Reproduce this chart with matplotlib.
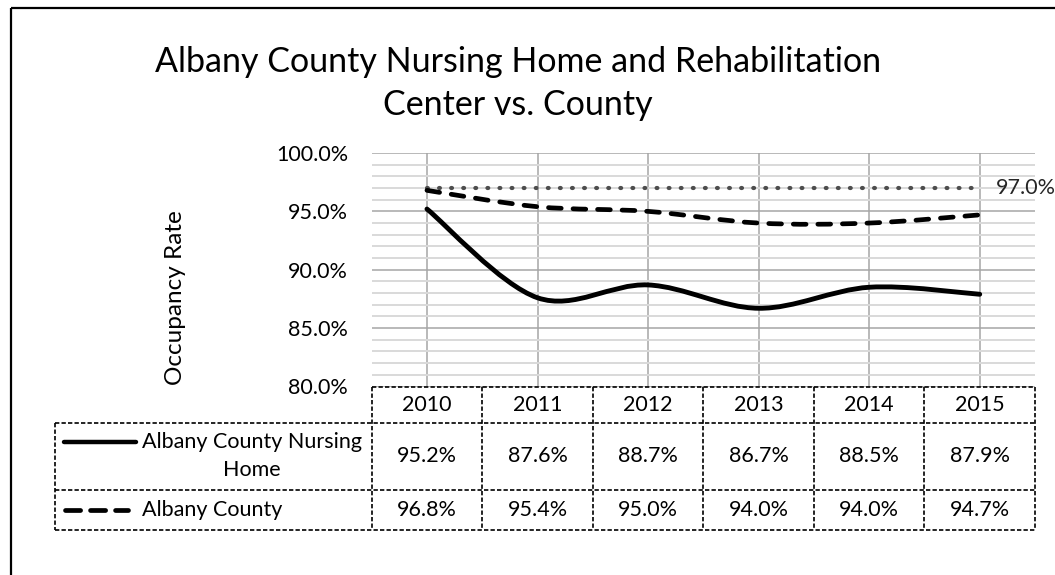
import matplotlib
matplotlib.use("Agg")
import matplotlib.pyplot as plt
from matplotlib.path import Path
from matplotlib.patches import PathPatch, Rectangle
from matplotlib.ticker import MultipleLocator, FuncFormatter

plt.rcParams["font.family"] = ["Lato", "DejaVu Sans"]

YEARS = ["2010", "2011", "2012", "2013", "2014", "2015"]
NURSING_HOME = [95.2, 87.6, 88.7, 86.7, 88.5, 87.9]
COUNTY = [96.8, 95.4, 95.0, 94.0, 94.0, 94.7]
TARGET = 97.0
SERIES_NAMES = ["Albany County Nursing\nHome", "Albany County"]
TITLE_LINES = ["Albany County Nursing Home and Rehabilitation", "Center vs. County"]


def smooth_path(xs, ys):
    # Excel-like smoothing: cubic bezier with catmull-rom control points
    pts = list(zip(xs, ys))
    n = len(pts)
    verts = [pts[0]]
    codes = [Path.MOVETO]
    for i in range(n - 1):
        p0 = pts[max(i - 1, 0)]
        p1 = pts[i]
        p2 = pts[i + 1]
        p3 = pts[min(i + 2, n - 1)]
        c1 = (p1[0] + (p2[0] - p0[0]) / 6, p1[1] + (p2[1] - p0[1]) / 6)
        c2 = (p2[0] - (p3[0] - p1[0]) / 6, p2[1] - (p3[1] - p1[1]) / 6)
        verts += [c1, c2, p2]
        codes += [Path.CURVE4] * 3
    return Path(verts, codes)


W, H = 1055, 575
fig = plt.figure(figsize=(W / 100, H / 100), dpi=100)
ax = fig.add_axes([371.7 / W, 1 - 386.5 / H, (1035 - 371.7) / W, (386.5 - 153) / H])

x = list(range(len(YEARS)))
ax.set_xlim(-0.5, len(YEARS) - 0.5)
ax.set_ylim(80, 100)
ax.yaxis.set_major_locator(MultipleLocator(5))
ax.yaxis.set_minor_locator(MultipleLocator(1))
ax.yaxis.set_major_formatter(FuncFormatter(lambda v, _: f"{v:.1f}%"))
ax.set_xticks(x)
ax.set_xticklabels([])
ax.tick_params(axis="both", which="both", length=0)
ax.tick_params(axis="y", labelsize=15.5, pad=17, labelcolor="#000000")
for s in ax.spines.values():
    s.set_visible(False)

ax.grid(axis="y", which="minor", color="#d9d9d9", lw=1.4, zorder=0)
ax.grid(axis="y", which="major", color="#a6a6a6", lw=1.1, zorder=0.2)
ax.grid(axis="x", which="major", color="#a6a6a6", lw=1.1, zorder=0.2)
for b in range(len(YEARS) + 1):
    ax.axvline(b - 0.5, color="white", lw=1.6, zorder=0.1)
ax.set_axisbelow(True)

ax.set_ylabel("Occupancy Rate", fontsize=17.5, labelpad=0)
ax.yaxis.set_label_coords((186 - 371.7) / (1035 - 371.7), (386.5 - 298) / (386.5 - 153))

ax.plot([x[0], x[-1]], [TARGET, TARGET], color="#4d4d4d", lw=3.0,
        linestyle=(0, (0.2, 2.7)), dash_capstyle="round", zorder=3)
ax.text(x[-1] + 0.15, TARGET, f"{TARGET:.1f}%", fontsize=15.5, va="center", ha="left",
        color="#262626", clip_on=False)

ax.add_patch(PathPatch(smooth_path(x, COUNTY), fill=False, ec="black", lw=3.4,
                       linestyle=(0, (2.7, 2.5)), capstyle="round", zorder=4))
ax.add_patch(PathPatch(smooth_path(x, NURSING_HOME), fill=False, ec="black", lw=3.5,
                       capstyle="round", zorder=4))

# data table drawn in pixel coordinates on an overlay
ov = fig.add_axes([0, 0, 1, 1], facecolor="none")
ov.set_xlim(0, W)
ov.set_ylim(H, 0)
ov.axis("off")

fig.canvas.draw()
col_px = [ax.transData.transform((i, 0))[0] for i in x]
half = (col_px[1] - col_px[0]) / 2
edges = [c - half for c in col_px] + [col_px[-1] + half]
row_y = [387, 423, 490, 530]
lab_left = 55

dash = dict(color="black", lw=1.2, linestyle=(0, (2.6, 1.3)))
ov.plot([edges[0], edges[-1]], [row_y[0]] * 2, **dash)
for yy in row_y[1:]:
    ov.plot([lab_left, edges[-1]], [yy] * 2, **dash)
for e in edges:
    ov.plot([e, e], [row_y[0], row_y[-1]], **dash)
ov.plot([lab_left, lab_left], [row_y[1], row_y[-1]], **dash)

fs = 15.5
for cx, yr in zip(col_px, YEARS):
    ov.text(cx, (row_y[0] + row_y[1]) / 2, yr, ha="center", va="center", fontsize=fs)
for r, vals in enumerate([NURSING_HOME, COUNTY]):
    cy = (row_y[r + 1] + row_y[r + 2]) / 2
    for cx, v in zip(col_px, vals):
        ov.text(cx, cy, f"{v:.1f}%", ha="center", va="center", fontsize=fs)

ov.plot([64, 136], [441.5, 441.5], color="black", lw=3.2, solid_capstyle="round")
ov.text(252, 456, SERIES_NAMES[0], ha="center", va="center", fontsize=fs, linespacing=1.45)
ov.plot([65, 128], [510, 510], color="black", lw=3.4, linestyle=(0, (3.2, 2.1)),
        dash_capstyle="round")
ov.text(142, 510, SERIES_NAMES[1], ha="left", va="center", fontsize=fs)

# title
ov.text(518, 72, TITLE_LINES[0], ha="center", va="baseline", fontsize=24.5)
ov.text(518, 115, TITLE_LINES[1], ha="center", va="baseline", fontsize=24.5)

# outer chart border
ov.add_patch(Rectangle((11, 7.5), 1100, 700, fill=False, ec="black", lw=1.6, clip_on=False))

fig.savefig("out.png", dpi=100)
